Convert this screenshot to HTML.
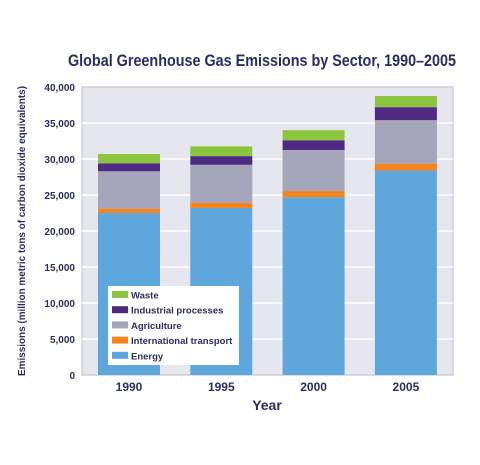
<!DOCTYPE html>
<html><head><meta charset="utf-8"><style>
body{margin:0;background:#fff;width:480px;height:460px;overflow:hidden;font-family:"Liberation Sans",sans-serif}
text{font-family:"Liberation Sans",sans-serif;font-weight:bold;fill:#2b2d5e}
</style></head><body>
<svg id="chart" width="480" height="460">
<text x="262" y="66" font-size="17" text-anchor="middle" textLength="388" lengthAdjust="spacingAndGlyphs">Global Greenhouse Gas Emissions by Sector, 1990–2005</text>
<rect x="82" y="87" width="371" height="288" fill="#e6e6ee" stroke="#cfcfd8" stroke-width="1.5"/>
<g id="grid"></g><g id="bars"></g><g id="yticks"></g><g id="xticks"></g>
<text transform="translate(25,231) rotate(-90)" font-size="10" text-anchor="middle" textLength="290" lengthAdjust="spacingAndGlyphs">Emissions (million metric tons of carbon dioxide equivalents)</text>
<text x="267" y="410" font-size="14" text-anchor="middle">Year</text>
<g id="legend"></g>
</svg>
<script>
const categories=["1990","1995","2000","2005"];
const seriesNames=["Energy","International transport","Agriculture","Industrial processes","Waste"];
const seriesColors=["#5ea7dc","#f5841f","#a6a6ba","#4e2a84","#8cc63f"];
const energy=[22.5,23.2,24.7,28.4];
const transport=[0.6,0.7,0.85,0.95];
const agriculture=[5.2,5.3,5.7,6.05];
const industrial=[1.1,1.2,1.35,1.8];
const waste=[1.3,1.35,1.4,1.55];
const yTicks=[0,5000,10000,15000,20000,25000,30000,35000,40000];
const yTickLabels=["0","5,000","10,000","15,000","20,000","25,000","30,000","35,000","40,000"];
const series=[energy,transport,agriculture,industrial,waste];
const NS="http://www.w3.org/2000/svg";
function y(v){return 375-v/40000*288;}
function x(i){return 98+i*92.3;}
const bw=62;
function mk(tag,attrs,parent){const e=document.createElementNS(NS,tag);for(const k in attrs)e.setAttribute(k,attrs[k]);parent.appendChild(e);return e;}
const grid=document.getElementById('grid'),bars=document.getElementById('bars'),yt=document.getElementById('yticks'),xt=document.getElementById('xticks'),lg=document.getElementById('legend');
yTicks.forEach((t,i)=>{
 if(t>0&&t<40000){const l=mk('line',{x1:82,x2:453,y1:y(t),y2:y(t),stroke:'#fff','stroke-width':1.5},grid);
 
 }
 const tx=mk('text',{x:75,y:y(t)+4,'font-size':10,'text-anchor':'end'},yt);tx.textContent=yTickLabels[i];
 
 
});
categories.forEach((c,i)=>{
 let cum=0;
 series.forEach((s,j)=>{
  const v=s[i]*1000;
  const r=mk('rect',{x:x(i),y:y(cum+v),width:bw,height:y(cum)-y(cum+v),fill:seriesColors[j]},bars);
  
  
  cum+=v;
 });
 const tx=mk('text',{x:x(i)+bw/2,y:391,'font-size':12,'text-anchor':'middle'},xt);tx.textContent=c;
 
 
});
const box=mk('rect',{x:108,y:286,width:131,height:79,fill:'#fff'},lg);


for(let k=0;k<5;k++){
 const j=4-k, yy=291+k*15.2;
 const sw=mk('rect',{x:112,y:yy,width:16,height:7,fill:seriesColors[j]},lg);
 
 
 const t=mk('text',{x:131,y:yy+7.5,'font-size':9.5},lg);t.textContent=seriesNames[j];
 
 
}
</script>
</body></html>
